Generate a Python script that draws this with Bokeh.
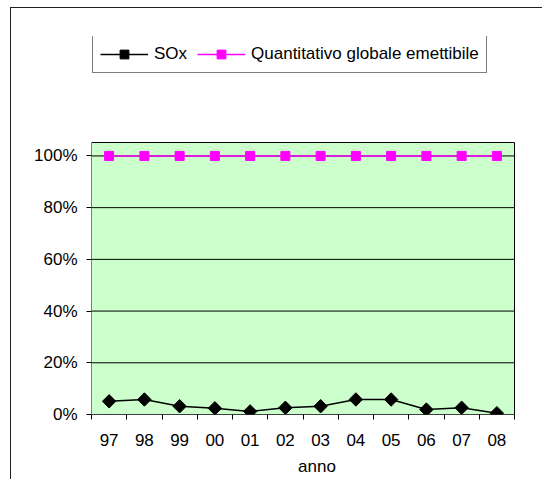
import math
from bokeh.plotting import figure
from bokeh.models import (Legend, LegendItem, FixedTicker, NumeralTickFormatter,
                          Range1d, InlineStyleSheet)
from bokeh.embed import file_html
from bokeh.resources import INLINE

# Years (two-digit labels) and the two series, as share of the allowed total
anni = ["97", "98", "99", "00", "01", "02", "03", "04", "05", "06", "07", "08"]
sox = [0.051, 0.058, 0.032, 0.024, 0.012, 0.026, 0.032, 0.058, 0.058, 0.019, 0.026, 0.005]
quantitativo = [1.0] * 12
y_ticks = [0.0, 0.2, 0.4, 0.6, 0.8, 1.0]
serie = ["SOx", "Quantitativo globale emettibile"]

FONT = "Liberation Sans"
FS = "17px"
N = len(anni)
Y_TOP = 1.052                 # top of the green plotting area
PX_X = 423 / N                # pixels per category
PX_Y = 272 / Y_TOP            # pixels per unit (100%)
SOX_COLOR = "black"
Q_COLOR = "#FF00FF"

x = [i + 0.5 for i in range(N)]

# chart-area border that runs off the right and bottom edges of the page
outer_border = InlineStyleSheet(css="""
:host::after {
  content: ""; position: absolute; pointer-events: none;
  left: 10px; top: 7px; width: 560px; height: 500px;
  border: 1.5px solid #222; z-index: 10;
}
""")

# the frame also covers the legend strip above the plotting area
p = figure(width=542, height=479, output_backend="svg", toolbar_location=None,
           frame_width=451, frame_height=378,
           min_border_left=91, min_border_right=0, min_border_top=36, min_border_bottom=65,
           x_range=Range1d(0, 451 / PX_X), y_range=Range1d(0, 378 / PX_Y),
           background_fill_color="white", border_fill_color="white",
           title_location=None, stylesheets=[outer_border])
p.outline_line_color = None
p.grid.visible = False

# green plotting area with its border
p.quad(left=[0], right=[N], bottom=[0], top=[Y_TOP], fill_color="#CCFFCC",
       line_color="black", line_width=1, level="image")

# horizontal gridlines at each percentage tick
p.segment(x0=[0] * len(y_ticks), x1=[N] * len(y_ticks), y0=y_ticks, y1=y_ticks,
          line_color="black", line_width=1, level="underlay")

# x axis: labels at category centres, tick marks at category boundaries
p.xaxis.ticker = FixedTicker(ticks=x, minor_ticks=list(range(N + 1)))
p.xaxis.major_label_overrides = {xi: a for xi, a in zip(x, anni)}
p.xaxis.major_tick_in = 0
p.xaxis.major_tick_out = 0
p.xaxis.minor_tick_in = 0
p.xaxis.minor_tick_out = 5
p.xaxis.minor_tick_line_color = "black"
p.xaxis.axis_line_color = None
p.xaxis.major_label_standoff = 14
p.xaxis.axis_label = "anno"
p.xaxis.axis_label_standoff = 8
p.xaxis.axis_label_text_font_style = "normal"
p.xaxis.axis_label_text_align = "center"

# y axis: percentages
p.yaxis.ticker = FixedTicker(ticks=y_ticks, minor_ticks=[])
p.yaxis.formatter = NumeralTickFormatter(format="0%")
p.yaxis.major_tick_in = 0
p.yaxis.major_tick_out = 5
p.yaxis.major_tick_line_color = "black"
p.yaxis.axis_line_color = None
p.yaxis.major_label_standoff = 9

for ax in (p.xaxis[0], p.yaxis[0]):
    ax.major_label_text_font = FONT
    ax.major_label_text_font_size = FS
    ax.major_label_text_color = "black"
    ax.axis_label_text_font = FONT
    ax.axis_label_text_font_size = FS
    ax.axis_label_text_color = "black"

# series
r_q_line = p.line(x, quantitativo, line_color=Q_COLOR, line_width=1.5)
r_q_pts = p.scatter(x, quantitativo, marker="square", size=9,
                    fill_color=Q_COLOR, line_color=Q_COLOR)
r_s_line = p.line(x, sox, line_color=SOX_COLOR, line_width=1.5)
r_s_pts = p.scatter(x, sox, marker="square", size=9.5, angle=math.pi / 4,
                    fill_color=SOX_COLOR, line_color=SOX_COLOR)

legend = Legend(items=[
    LegendItem(label=serie[0], renderers=[r_s_line, r_s_pts]),
    LegendItem(label=serie[1], renderers=[r_q_line, r_q_pts]),
], orientation="horizontal", location=(1, 341))
legend.label_text_font = FONT
legend.label_text_font_size = FS
legend.label_text_color = "black"
legend.border_line_color = "black"
legend.border_line_width = 1
legend.background_fill_color = "white"
legend.background_fill_alpha = 1
legend.glyph_width = 48
legend.glyph_height = 22
legend.label_standoff = 6
legend.spacing = 10
legend.padding = 7
legend.margin = 0
p.add_layout(legend, "center")

open("out.html", "w").write(file_html(p, INLINE))
